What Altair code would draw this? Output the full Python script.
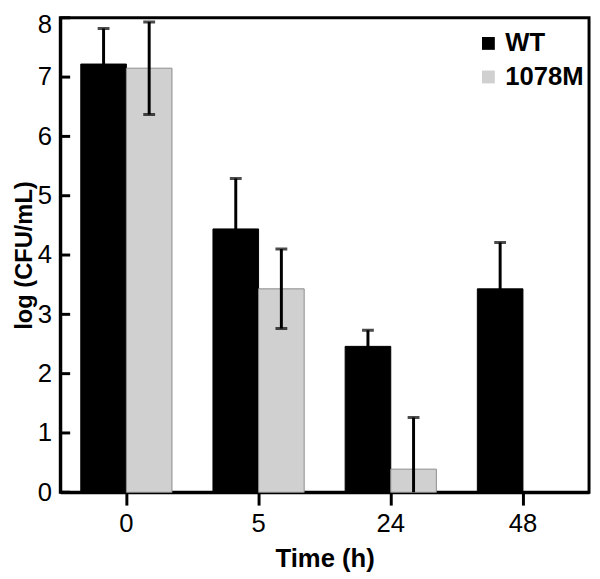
import altair as alt
import pandas as pd

times = ["0", "5", "24", "48"]
strains = ["WT", "1078M"]
wt_mean = [7.22, 4.44, 2.46, 3.43]
wt_err = [0.60, 0.85, 0.27, 0.78]
mut_mean = [7.15, 3.43, 0.39, None]
mut_err = [0.78, 0.67, 0.87, None]
y_ticks = [0, 1, 2, 3, 4, 5, 6, 7, 8]

rows = []
for t, m, e in zip(times, wt_mean, wt_err):
    rows.append({"Time": t, "Strain": "WT", "mean": m, "err": e})
for t, m, e in zip(times, mut_mean, mut_err):
    if m is not None:
        rows.append({"Time": t, "Strain": "1078M", "mean": m, "err": e})
df = pd.DataFrame(rows)
df["lo"] = df["mean"] - df["err"]
df["hi"] = df["mean"] + df["err"]

FONT = "Liberation Sans"

x_enc = alt.X("Time:N", sort=times, title="Time (h)",
              scale=alt.Scale(paddingInner=0.31, paddingOuter=0.155),
              axis=alt.Axis(labelAngle=0))
xoff = alt.XOffset("Strain:N", sort=strains, scale=alt.Scale(paddingInner=0, paddingOuter=0))
y_scale = alt.Scale(domain=[0, 8], nice=False)

bars = alt.Chart(df).mark_bar(strokeWidth=1).encode(
    x=x_enc,
    xOffset=xoff,
    y=alt.Y("mean:Q", scale=y_scale, title="log (CFU/mL)",
            axis=alt.Axis(values=y_ticks, format="d", ticks=False, grid=False,
                          labelOffset={"expr": "datum.value == 8 ? 7 : 0"})),
    color=alt.Color("Strain:N", sort=strains,
                    scale=alt.Scale(domain=strains, range=["#000000", "#d0d0d0"]),
                    legend=alt.Legend(title=None, orient="none", legendX=421, legendY=13,
                                      symbolType="square", symbolSize=169,
                                      symbolStrokeWidth=0, labelFontSize=26,
                                      labelFontWeight="bold", labelFont=FONT,
                                      labelColor="black",
                                      labelOffset=4, rowPadding=8, padding=0)),
    stroke=alt.Stroke("Strain:N", sort=strains,
                      scale=alt.Scale(domain=strains, range=["#000000", "#8c8c8c"]),
                      legend=None),
)

err_lines = alt.Chart(df).mark_rule(color="black", strokeWidth=3, clip=True).encode(
    x=alt.X("Time:N", sort=times),
    xOffset=xoff,
    y=alt.Y("lo:Q"),
    y2="hi:Q",
)
caps = alt.Chart(df).transform_fold(["lo", "hi"], as_=["end", "val"]).mark_tick(
    color="black", thickness=3, size=12, clip=True
).encode(
    x=alt.X("Time:N", sort=times),
    xOffset=xoff,
    y=alt.Y("val:Q"),
)

ytick_df = pd.DataFrame({"v": y_ticks})
yticks = alt.Chart(ytick_df).mark_rule(color="black", strokeWidth=3).encode(
    y=alt.Y("v:Q"),
    x=alt.value(0),
    x2=alt.value(10),
)

chart = alt.layer(bars, err_lines, caps, yticks).properties(
    width=536, height=481,
    autosize=alt.AutoSizeParams(type="none"),
    padding={"left": 53, "top": 6, "right": 3, "bottom": 84},
).configure_view(
    stroke="black", strokeWidth=3
).configure_axis(
    domainColor="black", domainWidth=3, tickColor="black", tickWidth=3,
    labelFont=FONT, titleFont=FONT, labelFontSize=26, titleFontSize=24,
    labelColor="black", titleColor="black", titleFontWeight="bold",
).configure_axisX(
    tickSize=13, labelPadding=6, titlePadding=9, domain=True, titleFontSize=26,
).configure_axisY(
    labelPadding=9, titlePadding=1,
)

chart.save("out.html", embed_options={"renderer": "svg", "actions": False})
